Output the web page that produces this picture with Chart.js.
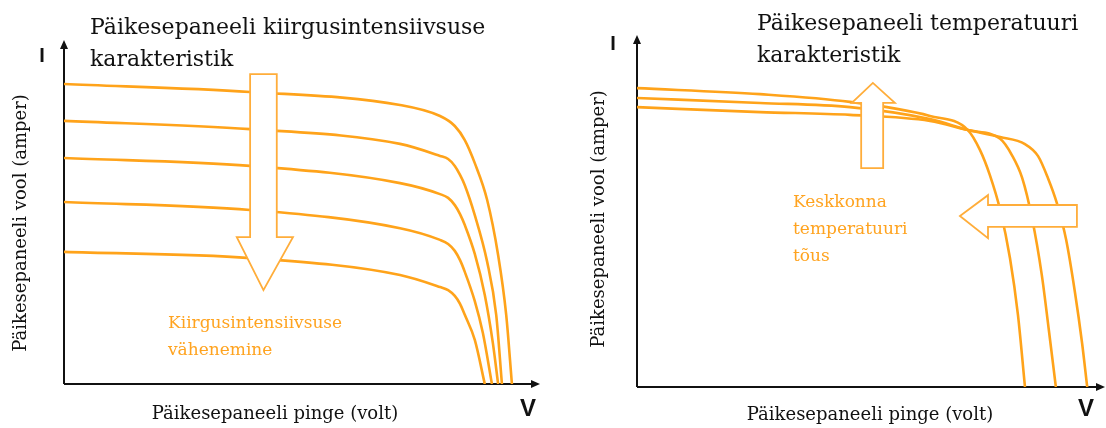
<!DOCTYPE html>
<html>
<head>
<meta charset="utf-8">
<script src="https://cdn.jsdelivr.net/npm/chart.js@4.4.1/dist/chart.umd.min.js"></script>
<style>
  html, body { margin: 0; padding: 0; background: #fff; }
  body { width: 1106px; height: 428px; position: relative; overflow: hidden; }
  .panel { position: absolute; top: 0; width: 553px; height: 428px; }
  .txt { position: absolute; white-space: nowrap; font-family: "DejaVu Serif", serif; color: #111; }
  .title { font-size: 22px; line-height: 32px; }
  .note { font-size: 17px; line-height: 27px; color: #ffa31f; }
  .axlbl { font-size: 18px; line-height: 20px; }
  .ylbl { transform: translate(-50%, -50%) rotate(-90deg); }
  .xlbl { transform: translate(-50%, -50%); }
  .sym { font-family: "Liberation Sans", Arial, sans-serif; font-weight: bold; line-height: 26px; transform: translate(-50%, -50%); color: #111; }
  .symI { font-size: 20px; }
  .symV { font-size: 24px; }
</style>
</head>
<body>
<div class="panel" style="left:0"><canvas id="c1"></canvas></div>
<div class="panel" style="left:553px"><canvas id="c2"></canvas></div>

<div class="txt title" id="t1" style="left:90px; top:11px"></div>
<div class="txt title" id="t2" style="left:757px; top:7px"></div>
<div class="txt note" id="n1" style="left:168px; top:309px"></div>
<div class="txt note" id="n2" style="left:793px; top:188px"></div>
<div class="txt axlbl ylbl" id="y1" style="left:20px; top:223px"></div>
<div class="txt axlbl ylbl" id="y2" style="left:598px; top:219px"></div>
<div class="txt axlbl xlbl" id="x1" style="left:275px; top:413px"></div>
<div class="txt axlbl xlbl" id="x2" style="left:870px; top:414px"></div>
<div class="txt sym symI" id="i1" style="left:42px; top:55px"></div>
<div class="txt sym symI" id="i2" style="left:613px; top:43px"></div>
<div class="txt sym symV" id="v1" style="left:528px; top:408px"></div>
<div class="txt sym symV" id="v2" style="left:1086px; top:408px"></div>

<script>
// ---------- text ----------
const titleLeft = ["Päikesepaneeli kiirgusintensiivsuse", "karakteristik"];
const titleRight = ["Päikesepaneeli temperatuuri", "karakteristik"];
const noteLeft = ["Kiirgusintensiivsuse", "vähenemine"];
const noteRight = ["Keskkonna", "temperatuuri", "tõus"];
const yAxisTitle = "Päikesepaneeli vool (amper)";
const xAxisTitle = "Päikesepaneeli pinge (volt)";
const yAxisSymbol = "I";
const xAxisSymbol = "V";

// ---------- left panel: irradiance curves (V and I in % of axis length) ----------
const irrV1 = [0, 39.1, 70.6, 79.0, 82.1, 84.2, 86.3, 88.9, 91.2, 92.9, 94.1];
const irrI1 = [87.2, 84.9, 81.1, 77.9, 75.0, 70.9, 64.2, 53.5, 37.5, 20.1, 0];
const irrV2 = [0, 39.1, 70.6, 79.0, 80.7, 82.1, 83.2, 84.2, 86.3, 88.9, 90.8, 92.0];
const irrI2 = [76.5, 74.1, 69.8, 66.3, 65.4, 63.4, 60.8, 57.8, 49.1, 35.5, 20.1, 0];
const irrV3 = [0, 39.1, 70.6, 79.0, 80.7, 82.1, 83.2, 84.2, 86.3, 88.4, 90.1, 91.2];
const irrI3 = [65.7, 63.4, 58.4, 55.2, 54.1, 52.0, 49.4, 46.2, 37.8, 25.9, 11.9, 0];
const irrV4 = [0, 39.1, 70.6, 79.0, 80.7, 82.1, 83.2, 84.2, 86.3, 88.0, 89.9];
const irrI4 = [52.9, 50.6, 45.3, 41.9, 40.7, 38.7, 36.0, 32.6, 24.1, 14.8, 0];
const irrV5 = [0, 39.1, 70.6, 79.0, 80.7, 82.1, 83.2, 84.2, 86.3, 88.4];
const irrI5 = [38.4, 36.6, 31.7, 28.2, 27.3, 25.6, 23.3, 20.1, 12.8, 0];

// ---------- right panel: temperature curves ----------
const tmpV1 = [0, 26.3, 45.5, 62.6, 70.7, 73.3, 75.4, 77.6, 79.7, 81.4, 82.9];
const tmpI1 = [84.9, 83.2, 81.0, 77.0, 73.0, 67.3, 60.2, 50.3, 36.6, 20.5, 0];
const tmpV2 = [0, 26.3, 45.5, 62.6, 70.7, 77.6, 80.1, 82.3, 84.4, 86.5, 88.0, 89.5];
const tmpI2 = [82.1, 80.7, 79.5, 76.1, 73.0, 70.5, 65.9, 59.4, 48.0, 31.8, 16.2, 0];
const tmpV3 = [0, 26.3, 45.5, 62.6, 70.7, 77.6, 82.9, 85.7, 87.8, 89.7, 91.7, 93.6, 95.1, 96.2];
const tmpI3 = [79.5, 78.1, 77.3, 75.6, 73.0, 71.0, 69.0, 65.6, 59.4, 52.3, 41.8, 26.7, 12.5, 0];

// ---------- fill text ----------
function setLines(id, lines) {
  const el = document.getElementById(id);
  lines.forEach((s, i) => { if (i) el.appendChild(document.createElement('br')); el.appendChild(document.createTextNode(s)); });
}
setLines('t1', titleLeft); setLines('t2', titleRight);
setLines('n1', noteLeft); setLines('n2', noteRight);
setLines('y1', [yAxisTitle]); setLines('y2', [yAxisTitle]);
setLines('x1', [xAxisTitle]); setLines('x2', [xAxisTitle]);
setLines('i1', [yAxisSymbol]); setLines('i2', [yAxisSymbol]);
setLines('v1', [xAxisSymbol]); setLines('v2', [xAxisSymbol]);

// ---------- helpers ----------
const ORANGE = '#ffa31a';
function pts(vs, is) { return vs.map((v, k) => ({ x: v, y: is[k] })); }
function ds(vs, is) {
  return { data: pts(vs, is), borderColor: ORANGE, borderWidth: 2.6, pointRadius: 0,
           showLine: true, fill: false, cubicInterpolationMode: 'monotone' };
}

// axes with arrow heads
const axesPlugin = {
  id: 'axesArrows',
  beforeDatasetsDraw(chart) {
    const { ctx, chartArea: a } = chart;
    ctx.save();
    ctx.strokeStyle = '#111'; ctx.fillStyle = '#111'; ctx.lineWidth = 2;
    ctx.beginPath();
    ctx.moveTo(a.left, a.bottom); ctx.lineTo(a.right - 6, a.bottom);
    ctx.moveTo(a.left, a.bottom); ctx.lineTo(a.left, a.top + 6);
    ctx.stroke();
    ctx.beginPath();
    ctx.moveTo(a.right, a.bottom); ctx.lineTo(a.right - 9, a.bottom - 4); ctx.lineTo(a.right - 9, a.bottom + 4); ctx.closePath();
    ctx.moveTo(a.left, a.top); ctx.lineTo(a.left - 4, a.top + 9); ctx.lineTo(a.left + 4, a.top + 9); ctx.closePath();
    ctx.fill();
    ctx.restore();
  }
};

// hollow block arrows (annotation shapes, given in axis units)
const blockArrowPlugin = {
  id: 'blockArrows',
  afterDatasetsDraw(chart, args, opts) {
    const { ctx, scales: { x, y } } = chart;
    (opts.arrows || []).forEach(poly => {
      ctx.save();
      ctx.beginPath();
      poly.forEach((p, k) => {
        const px = x.getPixelForValue(p[0]), py = y.getPixelForValue(p[1]);
        if (k === 0) ctx.moveTo(px, py); else ctx.lineTo(px, py);
      });
      ctx.closePath();
      ctx.fillStyle = '#fff'; ctx.fill();
      ctx.lineWidth = 1.8; ctx.strokeStyle = '#ffad3a'; ctx.stroke();
      ctx.restore();
    });
  }
};

function makeChart(id, datasets, padding, arrows) {
  return new Chart(document.getElementById(id), {
    type: 'scatter',
    data: { datasets },
    options: {
      responsive: true, maintainAspectRatio: false, animation: false,
      layout: { padding },
      scales: {
        x: { type: 'linear', min: 0, max: 100, display: false },
        y: { type: 'linear', min: 0, max: 100, display: false }
      },
      plugins: { legend: { display: false }, tooltip: { enabled: false }, blockArrows: { arrows } }
    },
    plugins: [axesPlugin, blockArrowPlugin]
  });
}

// down arrow (left), up + left arrows (right), in axis units
const downArrow = [[39.1, 90.1], [44.7, 90.1], [44.7, 42.7], [48.1, 42.7], [41.9, 27.3], [36.3, 42.7], [39.1, 42.7]];
const upArrow = [[47.9, 62.2], [52.6, 62.2], [52.6, 80.7], [55.1, 80.7], [50.4, 86.4], [45.9, 80.7], [47.9, 80.7]];
const leftArrow = [[94.0, 51.7], [94.0, 45.5], [75.0, 45.5], [75.0, 42.3], [69.0, 48.6], [75.0, 54.5], [75.0, 51.7]];

makeChart('c1', [ds(irrV1, irrI1), ds(irrV2, irrI2), ds(irrV3, irrI3), ds(irrV4, irrI4), ds(irrV5, irrI5)],
  { left: 64, right: 13, top: 40, bottom: 44 }, [downArrow]);
makeChart('c2', [ds(tmpV1, tmpI1), ds(tmpV2, tmpI2), ds(tmpV3, tmpI3)],
  { left: 84, right: 1, top: 35, bottom: 41 }, [upArrow, leftArrow]);
</script>
</body>
</html>
